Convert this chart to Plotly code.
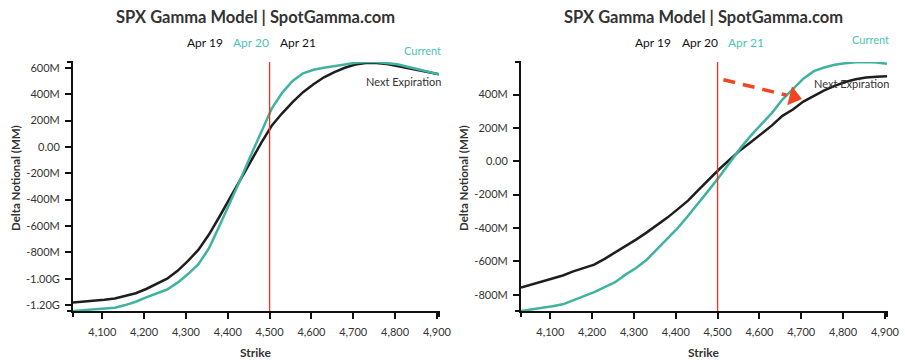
import plotly.graph_objects as go

# ---------------- data ----------------
strikes = [4030, 4055, 4080, 4105, 4130, 4155, 4180, 4205, 4230, 4255,
           4280, 4305, 4330, 4355, 4380, 4405, 4430, 4455, 4480, 4505,
           4530, 4555, 4580, 4605, 4630, 4655, 4680, 4705, 4730, 4755,
           4780, 4805, 4830, 4855, 4880, 4905]

# left panel (Apr 20), values in millions
left_current = [-1245, -1240, -1234, -1228, -1220, -1200, -1175, -1142, -1112, -1082,
                -1030, -965, -890, -770, -600, -430, -250, -65, 110, 290,
                410, 500, 558, 585, 600, 610, 625, 638, 644, 644,
                638, 627, 608, 588, 570, 551]
left_next = [-1180, -1175, -1168, -1160, -1150, -1132, -1110, -1078, -1040, -1000,
             -940, -865, -780, -665, -530, -390, -250, -105, 30, 160,
             255, 340, 415, 475, 528, 568, 600, 625, 636, 636,
             628, 614, 598, 582, 566, 551]

# right panel (Apr 21), values in millions
right_current = [-898, -890, -880, -870, -858, -835, -812, -785, -755, -725,
                 -680, -640, -592, -530, -465, -400, -325, -250, -170, -90,
                 -5, 80, 155, 225, 290, 370, 430, 495, 540, 562,
                 578, 588, 593, 595, 592, 585]
right_next = [-757, -738, -720, -703, -685, -660, -642, -620, -585, -548,
              -508, -470, -428, -385, -338, -287, -235, -170, -105, -45,
              12, 68, 115, 165, 215, 272, 310, 358, 392, 425,
              452, 475, 492, 502, 507, 510]

spot_strike = 4500
x_ticks = [4100, 4200, 4300, 4400, 4500, 4600, 4700, 4800, 4900]

left_y_ticks = [600, 400, 200, 0, -200, -400, -600, -800, -1000, -1200]
left_y_text = ["600M", "400M", "200M", "0.00", "-200M", "-400M", "-600M", "-800M", "-1.00G", "-1.20G"]
right_y_ticks = [400, 200, 0, -200, -400, -600, -800]
right_y_text = ["400M", "200M", "0.00", "-200M", "-400M", "-600M", "-800M"]

dates = ["Apr 19", "Apr 20", "Apr 21"]
left_active = "Apr 20"
right_active = "Apr 21"

title_text = "SPX Gamma Model | SpotGamma.com"

# arrow on right panel (data coordinates)
arrow_tail = (4514, 489)
arrow_base = (4665, 396)
arrow_head = (4682, 386)

# ---------------- styles ----------------
TEAL = "#40b3a0"
TEAL_TXT = "#4cc3b4"
BLACK = "#1e1e1e"
RED = "#f0301f"
ARROW = "#f0461f"
FONT = "Lato"

W, H = 905, 363
# plot-area edges in page pixels
L, R, T, B = 73, 887, 62, 311


def px(x):
    return (x - L) / (R - L)


def py(y):
    return (B - y) / (B - T)


fig = go.Figure()

panels = [
    ("x", "y", left_current, left_next),
    ("x2", "y2", right_current, right_next),
]
for xa, ya, cur, nxt in panels:
    fig.add_trace(go.Scatter(x=strikes, y=nxt, mode="lines", xaxis=xa, yaxis=ya,
                             line=dict(color=BLACK, width=2.5), hoverinfo="skip"))
    fig.add_trace(go.Scatter(x=strikes, y=cur, mode="lines", xaxis=xa, yaxis=ya,
                             line=dict(color=TEAL, width=2.5), hoverinfo="skip"))

# arrow
fig.add_trace(go.Scatter(x=[arrow_tail[0], arrow_base[0]], y=[arrow_tail[1], arrow_base[1]],
                         mode="lines", xaxis="x2", yaxis="y2",
                         line=dict(color=ARROW, width=3.5, dash="12px,8px"), hoverinfo="skip"))
fig.add_trace(go.Scatter(x=[arrow_head[0]], y=[arrow_head[1]], mode="markers",
                         xaxis="x2", yaxis="y2",
                         marker=dict(symbol="triangle-right", size=17, angle=14, color=ARROW,
                                     line=dict(width=0)), hoverinfo="skip"))

xr = [min(strikes), max(strikes)]
axis_common = dict(showgrid=False, zeroline=False, showline=True, linecolor="#111", linewidth=2,
                   ticks="outside", ticklen=6, tickwidth=1.5, tickcolor="#111", automargin=False,
                   tickfont=dict(family=FONT, size=11, color="#333"), fixedrange=True)

left_dom = [0, px(439)]
right_dom = [px(521), 1]

fig.update_layout(
    width=W, height=H,
    margin=dict(l=L, r=W - R, t=T, b=H - B, pad=0, autoexpand=False),
    paper_bgcolor="white", plot_bgcolor="white",
    showlegend=False,
    font=dict(family=FONT, color="#333"),
    xaxis=dict(domain=left_dom, range=xr, tickvals=x_ticks, tickformat=",d",
               anchor="y", ticklabelstandoff=4, **axis_common),
    yaxis=dict(range=[min(left_current + left_next), max(left_current + left_next)],
               tickvals=left_y_ticks, ticktext=left_y_text, anchor="x",
               ticklabelstandoff=3, **axis_common),
    xaxis2=dict(domain=right_dom, range=xr, tickvals=x_ticks, tickformat=",d",
                anchor="y2", ticklabelstandoff=4, **axis_common),
    yaxis2=dict(range=[min(right_current + right_next), max(right_current + right_next)],
                tickvals=right_y_ticks, ticktext=right_y_text, anchor="x2",
                ticklabelstandoff=3, **axis_common),
)

shapes = []
for xa, ya in [("x", "y"), ("x2", "y2")]:
    shapes.append(dict(type="line", xref=xa, yref=f"{ya} domain", x0=spot_strike, x1=spot_strike,
                       y0=0, y1=1, line=dict(color=RED, width=1.3)))
    for yy in (0, 1):
        shapes.append(dict(type="line", xref=f"{xa} domain", yref=f"{ya} domain",
                           xsizemode="pixel", xanchor=0, x0=-6, x1=0, y0=yy, y1=yy,
                           line=dict(color="#111", width=2)))
    for xx in (0, 1):
        shapes.append(dict(type="line", xref=f"{xa} domain", yref=f"{ya} domain",
                           ysizemode="pixel", yanchor=0, y0=0, y1=-6, x0=xx, x1=xx,
                           line=dict(color="#111", width=2)))
fig.update_layout(shapes=shapes)

ann = []
centers = [(255, left_active, [204.5, 251.3, 298.3], 50.7, 81.7, 442.7),
           (703, right_active, [652.8, 699.7, 746.2], 39.3, 83.3, 890.7)]
for cx, active, dxs, cur_y, nxt_y, rx in centers:
    ann.append(dict(text=f"<b>{title_text}</b>", x=px(cx), y=py(17), xref="paper", yref="paper",
                    showarrow=False, xanchor="center", yanchor="middle",
                    font=dict(family=FONT, size=16.5, color="#333")))
    for d, dx in zip(dates, dxs):
        ann.append(dict(text=d, x=px(dx), y=py(42.5), xref="paper", yref="paper",
                        showarrow=False, xanchor="center", yanchor="middle",
                        font=dict(family=FONT, size=12, color=TEAL_TXT if d == active else "#111")))
    ann.append(dict(text="Current", x=px(rx), y=py(cur_y), xref="paper", yref="paper",
                    showarrow=False, xanchor="right", yanchor="middle",
                    font=dict(family=FONT, size=11, color=TEAL_TXT)))
    ann.append(dict(text="Next Expiration", x=px(rx), y=py(nxt_y), xref="paper", yref="paper",
                    showarrow=False, xanchor="right", yanchor="middle",
                    font=dict(family=FONT, size=11, color="#333")))
    ann.append(dict(text="<b>Strike</b>", x=px(cx), y=py(353), xref="paper", yref="paper",
                    showarrow=False, xanchor="center", yanchor="middle",
                    font=dict(family=FONT, size=12, color="#333")))
for yx in (15, 463):
    ann.append(dict(text="<b>Delta Notional (MM)</b>", x=px(yx), y=py(178), xref="paper", yref="paper",
                    showarrow=False, xanchor="center", yanchor="middle", textangle=-90,
                    font=dict(family=FONT, size=11.5, color="#333")))
fig.update_layout(annotations=ann)

fig.write_html("out.html", config={"displayModeBar": False},
               post_script="document.body.style.margin='0';")
